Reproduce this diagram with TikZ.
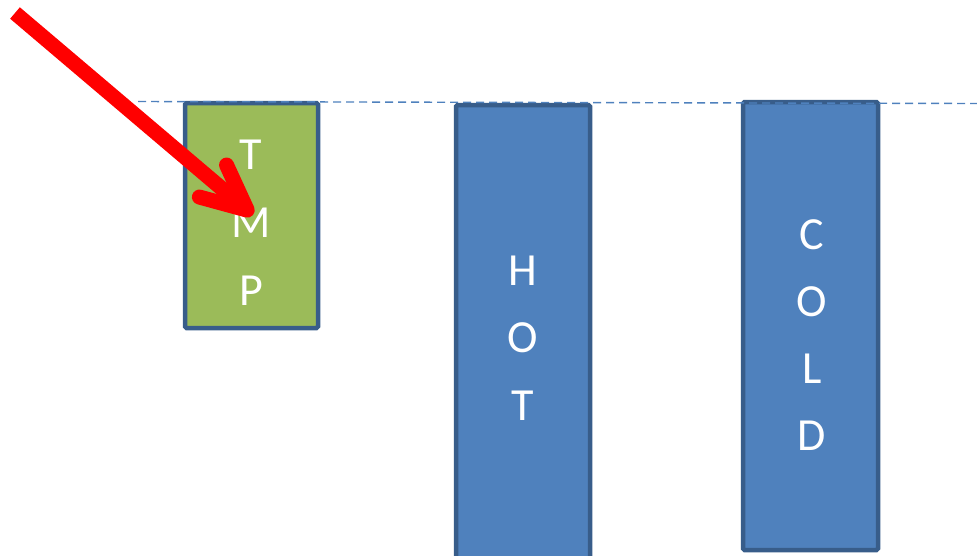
\documentclass[tikz,border=0pt]{standalone}
\usepackage{fontspec}
\setmainfont{Carlito}
\usetikzlibrary{arrows.meta}
\definecolor{barblue}{HTML}{4F81BD}
\definecolor{bargreen}{HTML}{9BBB59}
\definecolor{edgeblue}{HTML}{385D8A}
\tikzset{
	bar/.style={draw=edgeblue, line width=4.5pt, rounded corners=1.5pt},
	letter/.style={text=white, anchor=base, inner sep=0pt, font=\fontsize{46}{46}\selectfont},
	guide/.style={barblue, line width=1.4pt, dash pattern=on 8pt off 5pt},
	pointer/.style={red, line width=15pt, -{Straight Barb[length=45pt,width=42pt,round]}}
}
\begin{document}
\begin{tikzpicture}[x=1pt,y=-1pt]
	\useasboundingbox (0,0) rectangle (977,555);
	\clip (0,0) rectangle (977,555);
	% bars
	\draw[bar, fill=bargreen] (185,103) rectangle (318,328);
	\draw[bar, fill=barblue] (456,105) rectangle (590,580);
	\draw[bar, fill=barblue] (743,102) rectangle (878,550);
	% letters
	\foreach \ch [count=\i] in {T,M,P}
		\node[letter] (tmp-\i) at (251,169+68*\i-68) {\ch};
	\foreach \ch [count=\i] in {H,O,T}
		\node[letter] (hot-\i) at (523,285+67.5*\i-67.5) {\ch};
	\foreach \ch [count=\i] in {C,O,L,D}
		\node[letter] (cold-\i) at (812,249+67*\i-67) {\ch};
	% top line
	\coordinate (guidestart) at (138,101.5);
	\coordinate (guideend) at (977,103.5);
	\draw[guide] (guidestart) -- (guideend);
	% arrow
	\coordinate (arrowtail) at (15,13);
	\coordinate (arrowtip) at (253,215);
	\draw[pointer] (arrowtail) -- (arrowtip);
\end{tikzpicture}
\end{document}
